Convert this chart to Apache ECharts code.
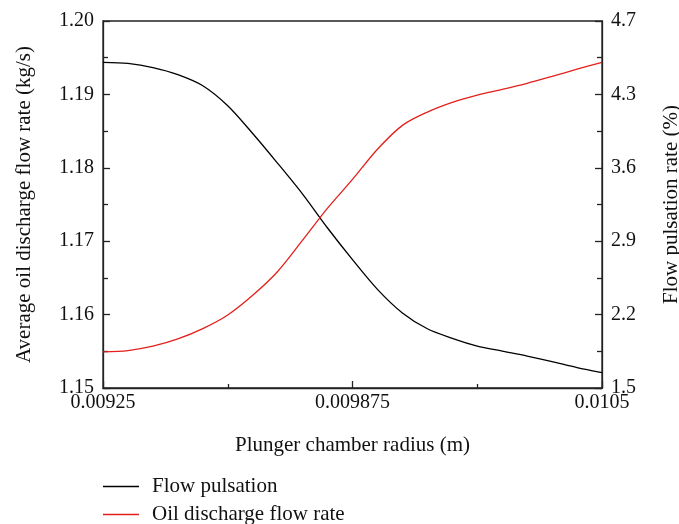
<!DOCTYPE html>
<html>
<head>
<meta charset="utf-8">
<script src="https://cdn.jsdelivr.net/npm/echarts@6/dist/echarts.min.js"></script>
<style>
html,body{margin:0;padding:0;background:#fff;}
#chart{width:679px;height:524px;}
</style>
</head>
<body>
<div id="chart"></div>
<script>
// Plunger chamber radius (m)
const radius = [0.00925, 0.0093125, 0.009375, 0.0094375, 0.0095, 0.0095625, 0.009625, 0.0096875, 0.00975, 0.0098125,
  0.009875, 0.0099375, 0.01, 0.0100625, 0.010125, 0.0101875, 0.01025, 0.0103125, 0.010375, 0.0104375, 0.0105];
// Flow pulsation rate (%), right axis
const flowPulsation = [4.606, 4.595, 4.556, 4.489, 4.383, 4.192, 3.927, 3.643, 3.349, 3.026,
  2.724, 2.441, 2.216, 2.065, 1.974, 1.900, 1.852, 1.805, 1.752, 1.694, 1.647];
// Average oil discharge flow rate (kg/s), left axis
const oilFlowRate = [1.15491, 1.15510, 1.15569, 1.15668, 1.15809, 1.15995, 1.16263, 1.16588, 1.17014, 1.17450,
  1.17842, 1.18252, 1.18578, 1.18759, 1.18891, 1.18990, 1.19067, 1.19150, 1.19245, 1.19344, 1.19437];
const xTickLabels = ['0.00925', '0.009875', '0.0105'];
const leftTickLabels = ['1.15', '1.16', '1.17', '1.18', '1.19', '1.20'];
const rightTickLabels = ['1.5', '2.2', '2.9', '3.6', '4.3', '4.7'];

const R0 = radius[0];
const toX = r => Math.round((r - R0) * 1e8) / 100;          // offset in micrometres
const toRight = v => (v - 1.5) / 0.7;                       // right-axis tick units

const FONT = 'Liberation Serif';
const txt = { color: '#111', fontFamily: FONT };

const chart = echarts.init(document.getElementById('chart'), null, { renderer: 'canvas' });
chart.setOption({
  animation: false,
  backgroundColor: '#fff',
  grid: { left: 103, right: 77, top: 21, bottom: 136, show: true, borderColor: '#222', borderWidth: 1.3,
          containLabel: false, outerBoundsMode: 'none' },
  legend: {
    orient: 'vertical', left: 103, top: 476, padding: 0, itemWidth: 36, itemHeight: 1.4, itemGap: 7,
    icon: 'rect', height: 60,
    textStyle: Object.assign({ fontSize: 21, padding: [0, 0, 0, 8] }, txt),
    data: ['Flow pulsation', 'Oil discharge flow rate']
  },
  xAxis: {
    type: 'value', min: 0, max: toX(radius[radius.length - 1]), interval: 625,
    name: 'Plunger chamber radius (m)', nameLocation: 'middle', nameGap: 47,
    nameTextStyle: Object.assign({ fontSize: 21 }, txt),
    axisLine: { lineStyle: { color: '#222', width: 1.3 } },
    axisTick: { inside: true, length: 7, lineStyle: { color: '#222', width: 1.3 } },
    minorTick: { show: true, splitNumber: 2, length: 4, lineStyle: { color: '#222', width: 1.3 } },
    axisLabel: Object.assign({ fontSize: 20, margin: 5, formatter: v => xTickLabels[Math.round(v / 625)] }, txt),
    splitLine: { show: false }
  },
  yAxis: [{
    type: 'value', min: 1.15, max: 1.2, interval: 0.01, position: 'left',
    name: 'Average oil discharge flow rate (kg/s)', nameLocation: 'middle', nameGap: 68,
    nameTextStyle: Object.assign({ fontSize: 21 }, txt),
    axisLine: { show: true, lineStyle: { color: '#222', width: 1.3 } },
    axisTick: { show: true, inside: true, length: 7, lineStyle: { color: '#222', width: 1.3 } },
    minorTick: { show: true, splitNumber: 2, length: 5, lineStyle: { color: '#222', width: 1.3 } },
    axisLabel: Object.assign({ fontSize: 20, margin: 9, formatter: v => leftTickLabels[Math.round((v - 1.15) / 0.01)] }, txt),
    splitLine: { show: false }
  }, {
    type: 'value', min: 0, max: 5, interval: 1, position: 'right',
    name: 'Flow pulsation rate (%)', nameLocation: 'middle', nameGap: 59,
    nameTextStyle: Object.assign({ fontSize: 21 }, txt),
    axisLine: { show: true, lineStyle: { color: '#222', width: 1.3 } },
    axisTick: { show: true, inside: true, length: 7, lineStyle: { color: '#222', width: 1.3 } },
    minorTick: { show: true, splitNumber: 2, length: 5, lineStyle: { color: '#222', width: 1.3 } },
    axisLabel: Object.assign({ fontSize: 20, margin: 9, formatter: v => rightTickLabels[Math.round(v)] }, txt),
    splitLine: { show: false }
  }],
  series: [{
    name: 'Flow pulsation', type: 'line', yAxisIndex: 1, symbol: 'none', smooth: 0.3,
    lineStyle: { color: '#000', width: 1.3 }, itemStyle: { color: '#000' },
    data: radius.map((r, i) => [toX(r), toRight(flowPulsation[i])])
  }, {
    name: 'Oil discharge flow rate', type: 'line', yAxisIndex: 0, symbol: 'none', smooth: 0.3,
    lineStyle: { color: '#e3201b', width: 1.3 }, itemStyle: { color: '#e3201b' },
    data: radius.map((r, i) => [toX(r), oilFlowRate[i]])
  }]
});
</script>
</body>
</html>
